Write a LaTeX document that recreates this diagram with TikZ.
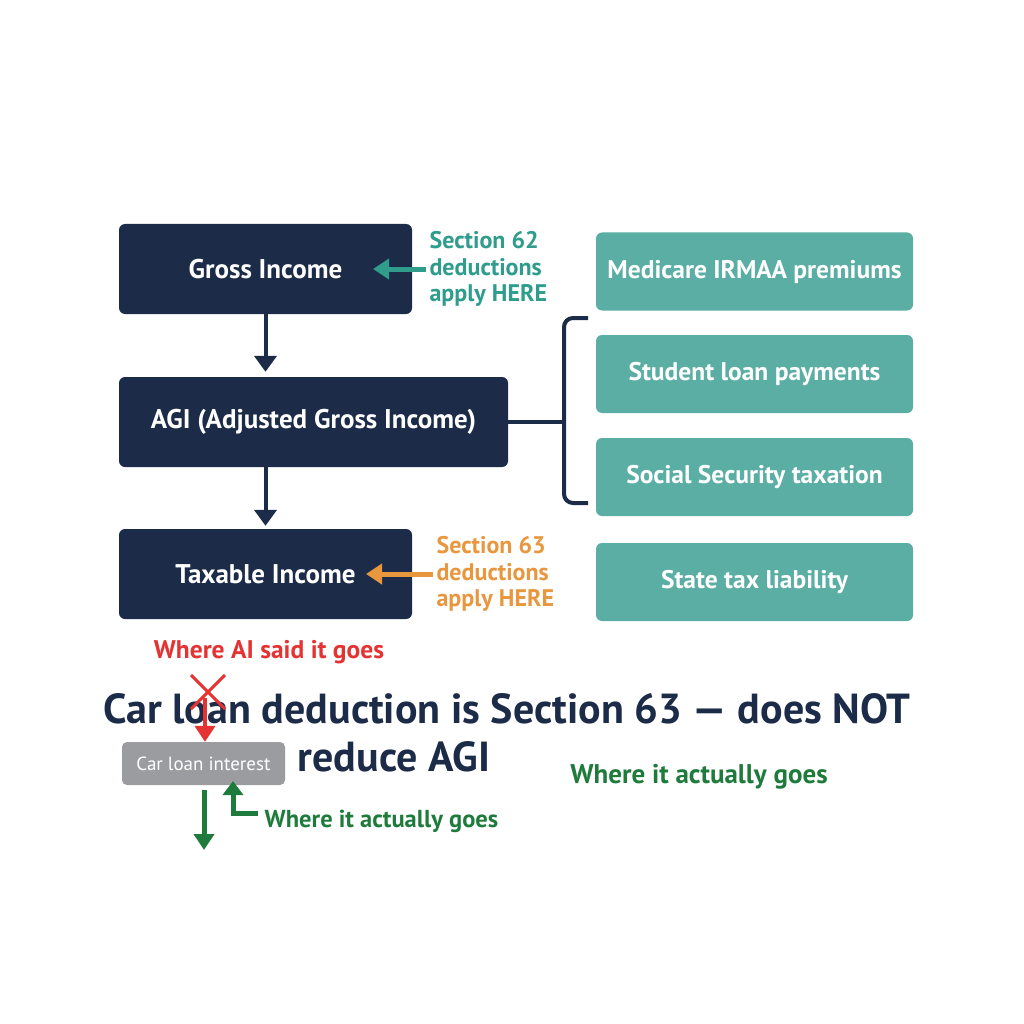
\documentclass[tikz,border=0pt]{standalone}
\usepackage{fontspec}
\setmainfont{PT Sans}
\usetikzlibrary{arrows.meta}

\definecolor{navy}{HTML}{1B2B48}
\definecolor{tealbox}{HTML}{5AAEA4}
\definecolor{tealtext}{HTML}{2F9C8C}
\definecolor{orangetext}{HTML}{E8973F}
\definecolor{redtext}{HTML}{E53232}
\definecolor{greentext}{HTML}{1E7B3C}
\definecolor{graybox}{HTML}{9A9C9F}

\tikzset{
  incomebox/.style={fill=navy, rounded corners=6pt, text=white,
    font=\bfseries\fontsize{27}{30}\selectfont, minimum height=90pt},
  effectbox/.style={fill=tealbox, rounded corners=6pt, text=white,
    font=\bfseries\fontsize{25.5}{28}\selectfont, minimum width=317pt, minimum height=78pt},
  notetext/.style={font=\bfseries\fontsize{24}{26.5}\selectfont, align=left, anchor=west},
  headline/.style={font=\bfseries\fontsize{42}{50}\selectfont, text=navy},
  flow/.style={navy, line width=4pt, -{Triangle[width=22pt, length=16pt]}},
  pointer/.style={line width=5pt, -{Triangle[width=20pt, length=16pt]}}
}

\begin{document}
\begin{tikzpicture}[x=1pt, y=-1pt]

  % Page
  \useasboundingbox[fill=white] (0,0) rectangle (1024,1024);

  % Income chain
  \node[incomebox, minimum width=293pt] (gross)   at (265.5, 269) {Gross Income};
  \node[incomebox, minimum width=389pt] (agi)     at (313.5, 422) {AGI (Adjusted Gross Income)};
  \node[incomebox, minimum width=293pt] (taxable) at (265.5, 574) {Taxable Income};

  \draw[flow, shorten >=5pt] (gross.south) -- (gross.south |- agi.north);
  \draw[flow, shorten >=3pt] (taxable.north |- agi.south) -- (taxable.north);

  % AGI driven items
  \node[effectbox] (medicare) at (754.5, 271.5) {Medicare IRMAA premiums};
  \node[effectbox] (student)  at (754.5, 374)   {Student loan payments};
  \node[effectbox] (social)   at (754.5, 477)   {Social Security taxation};
  \node[effectbox] (state)    at (754.5, 582)   {State tax liability};

  % Brace
  \coordinate (bracemid) at (564, 422);
  \draw[navy, line width=4pt, rounded corners=9pt]
    (588, 318) -- (564, 318) -- (bracemid) -- (564, 503) -- (588, 503);
  \draw[navy, line width=4pt] (agi.east) -- (bracemid);

  % Section 62 note
  \node[notetext, text=tealtext] (sec62) at (426, 269)
    {Section 62\\deductions\\apply HERE};
  \coordinate (in62) at (373, 269);
  \draw[pointer, tealtext] (sec62.west) -- (in62);

  % Section 63 note
  \node[notetext, text=orangetext] (sec63) at (433, 574)
    {Section 63\\deductions\\apply HERE};
  \coordinate (in63) at (366, 574);
  \draw[pointer, orangetext] (sec63.west) -- (in63);

  % Misplacement
  \node[font=\bfseries\fontsize{25.5}{28}\selectfont, text=redtext] (aisaid) at (269, 652)
    {Where AI said it goes};

  % Headline
  \node[headline] (headA) at (507, 709) {Car loan deduction is Section 63 — does NOT};
  \node[headline] (headB) at (394, 757) {reduce AGI};

  % Car loan box
  \node[fill=graybox, rounded corners=5pt, text=white, minimum width=163pt,
    minimum height=43pt, font=\fontsize{19}{22}\selectfont] (carloan) at (203.5, 763.5)
    {Car loan interest};

  % Red cross and arrow
  \draw[redtext, line width=3pt] (191, 675) -- (225, 709);
  \draw[redtext, line width=3pt] (225, 675) -- (191, 709);
  \coordinate (redstart) at (205, 698);
  \draw[pointer, redtext, line width=4pt] (redstart) -- (carloan.north -| redstart);

  % Green arrows
  \coordinate (greendown) at (204, 850);
  \draw[pointer, greentext] (carloan.south -| greendown) ++(0,5) -- (greendown);
  \coordinate (greenfoot) at (258, 813);
  \draw[greentext, line width=5pt, -{Triangle[width=20pt, length=14pt]}]
    (greenfoot) -| (233, 781);

  \node[font=\bfseries\fontsize{24.5}{27}\selectfont, text=greentext] (actualA) at (381.5, 821)
    {Where it actually goes};
  \node[font=\bfseries\fontsize{27}{30}\selectfont, text=greentext] (actualB) at (699, 777)
    {Where it actually goes};

\end{tikzpicture}
\end{document}
